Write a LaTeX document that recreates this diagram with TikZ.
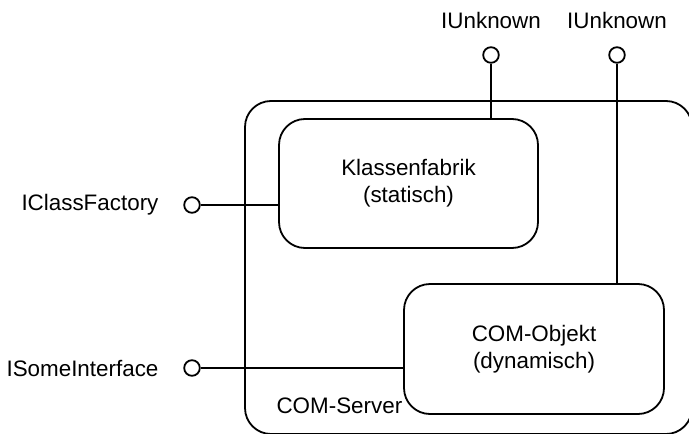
\documentclass[tikz,border=0pt]{standalone}
\usepackage{fontspec}
\setmainfont{Liberation Sans}
\begin{document}
\begin{tikzpicture}[x=0.5pt, y=-0.5pt, line width=0.9pt,
    every node/.style={font=\fontsize{11.2}{13.5}\selectfont, align=center},
    kasten/.style={draw, rounded corners=13pt, inner sep=0pt},
    lolli/.style={circle, draw, fill=white, minimum size=7.8pt, inner sep=0pt}]
        \useasboundingbox (0,0) rectangle (689,433);
        \node[kasten, minimum width=223.5pt, minimum height=166.5pt] (server) at (468.5,267.5) {};
        \node[kasten, minimum width=129.5pt, minimum height=64.5pt] (fabrik) at (408.5,183.5) {Klassenfabrik\\(statisch)};
        \node[kasten, minimum width=130pt, minimum height=65pt] (objekt) at (534,349) {COM-Objekt\\(dynamisch)};
        \node[anchor=base west] (srvname) at (269,413) {COM-Server};
        \node[lolli] (u1) at (491,55) {};
        \node[lolli] (u2) at (617,55) {};
        \node[lolli] (cf) at (192,205) {};
        \node[lolli] (si) at (192,368) {};
        \node[anchor=base] (u1name) at (491,29) {IUnknown};
        \node[anchor=base] (u2name) at (617,29) {IUnknown};
        \node[anchor=east] (cfname) at (166,205) {IClassFactory};
        \node[anchor=east] (siname) at (166,368) {ISomeInterface};
        \draw (u1) -- (u1 |- fabrik.north);
        \draw (u2) -- (u2 |- objekt.north);
        \draw (cf) -- (cf -| fabrik.west);
        \draw (si) -- (si -| objekt.west);
\end{tikzpicture}
\end{document}
